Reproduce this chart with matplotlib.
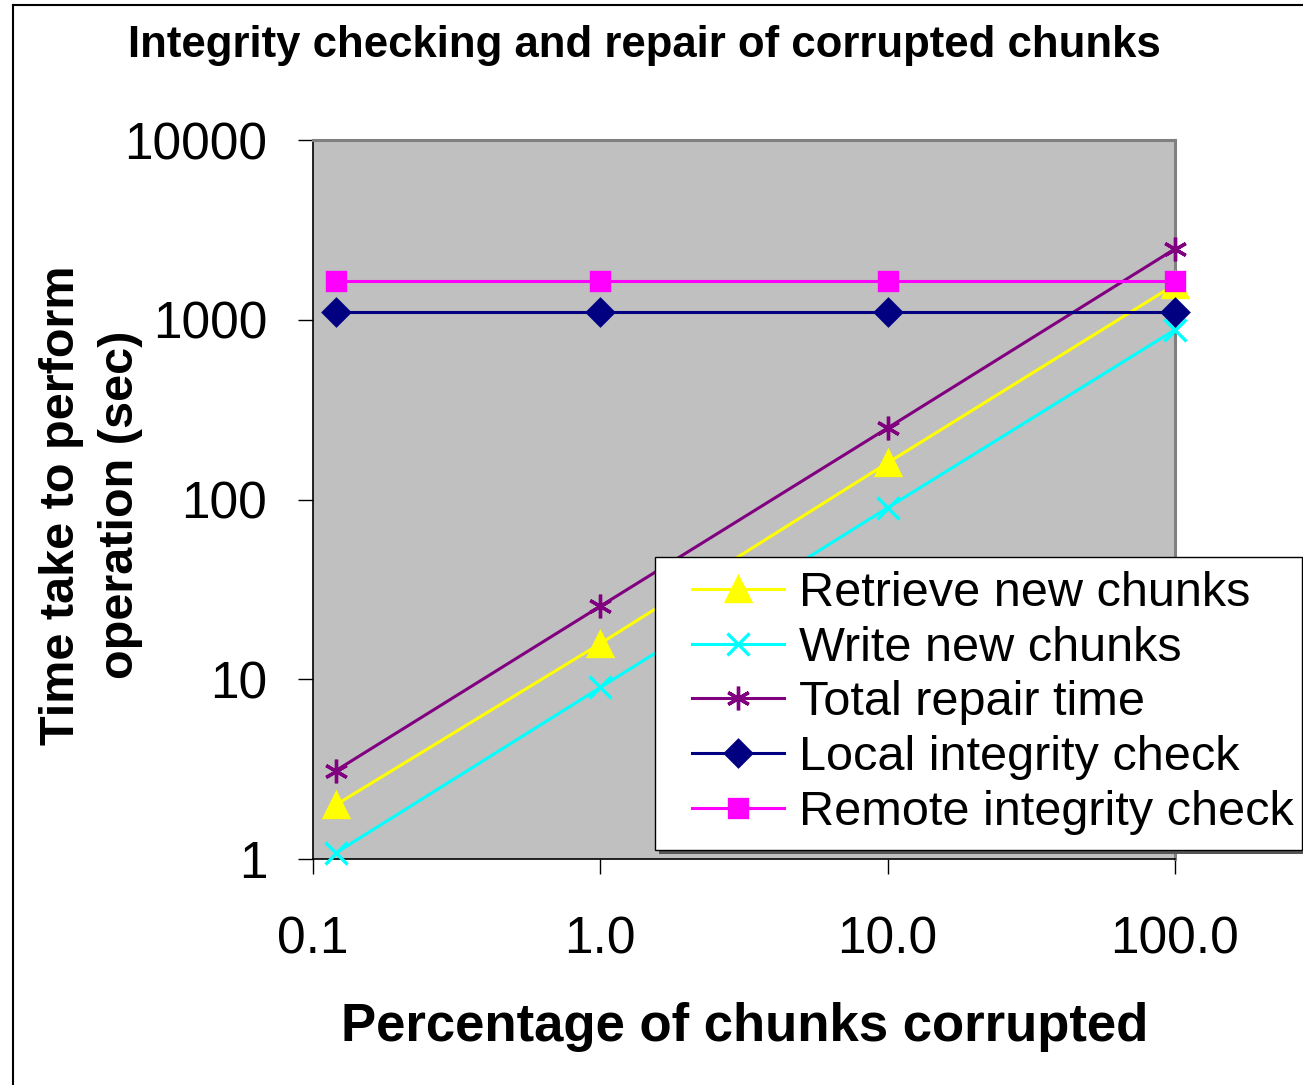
import matplotlib; matplotlib.use("Agg")
import matplotlib.pyplot as plt
from matplotlib.lines import Line2D
from matplotlib.patches import Rectangle

plt.rcParams["font.family"] = ["Liberation Sans", "DejaVu Sans"]

pct = [0.12, 1.0, 10.0, 100.0]
retrieve = [2.0, 15.8, 160, 1570]
write = [1.08, 9.0, 90, 880]
total = [3.1, 25.5, 250, 2480]
local = [1100, 1100, 1100, 1100]
remote = [1650, 1650, 1650, 1650]

SERIES = [("Retrieve new chunks", retrieve, "#FFFF00", "^", 17),
          ("Write new chunks", write, "#00FFFF", "x", 16),
          ("Total repair time", total, "#800080", (6, 2, 0), 17),
          ("Local integrity check", local, "#000080", "D", 13),
          ("Remote integrity check", remote, "#FF00FF", "s", 13)]

W, H = 1303, 1085
fig = plt.figure(figsize=(W / 100, H / 100), dpi=100)
ax = fig.add_axes([313 / W, 1 - 859 / H, (1175 - 313) / W, (859 - 140) / H])
ax.set_facecolor("#C0C0C0")

for name, vals, color, mk, ms in SERIES:
    ax.plot(pct, vals, color=color, lw=2.2, marker=mk, ms=ms, mew=2.4,
            mec=color, mfc=color, label=name, clip_on=False, zorder=3)

ax.set_xscale("log"); ax.set_yscale("log")
ax.set_xlim(0.1, 100); ax.set_ylim(1, 10000)
ax.set_xticks([0.1, 1, 10, 100]); ax.set_xticklabels(["0.1", "1.0", "10.0", "100.0"])
ax.set_yticks([1, 10, 100, 1000, 10000]); ax.set_yticklabels(["1", "10", "100", "1000", "10000"])
ax.minorticks_off()
ax.tick_params(axis="x", direction="out", length=11, width=1, labelsize=37, pad=30)
ax.tick_params(axis="y", direction="out", length=11, width=1, labelsize=37, pad=22)
for s in ["left", "bottom"]:
    ax.spines[s].set_color("black"); ax.spines[s].set_linewidth(1.2)
for s in ["top", "right"]:
    ax.spines[s].set_color("#808080"); ax.spines[s].set_linewidth(2.2)

fig.text(644 / W, 1 - 45 / H, "Integrity checking and repair of corrupted chunks",
         ha="center", va="center", fontsize=31.5, fontweight="bold")
fig.text(745 / W, 1 - 1027 / H, "Percentage of chunks corrupted",
         ha="center", va="center", fontsize=38, fontweight="bold")
fig.text(91 / W, 1 - 505 / H, "Time take to perform\noperation (sec)", rotation=90,
         ha="center", va="center", fontsize=35, fontweight="bold", linespacing=1.4)

# legend frame drawn by hand (with Excel-style shadow), entries placed inside it
lx0, ly0, lx1, ly1 = 655, 557, 1302, 850
fig.add_artist(Rectangle((lx0 / W + 4 / W, 1 - (ly1 + 4) / H), (lx1 - lx0) / W, (ly1 - ly0) / H,
                         transform=fig.transFigure, facecolor="#555555", edgecolor="none", zorder=9))
fig.add_artist(Rectangle((lx0 / W, 1 - ly1 / H), (lx1 - lx0) / W, (ly1 - ly0) / H,
                         transform=fig.transFigure, facecolor="white", edgecolor="black", lw=1, zorder=9))
handles, labels = ax.get_legend_handles_labels()
leg = fig.legend(handles, labels, loc="upper left", bbox_to_anchor=(692 / W, 1 - 571 / H),
                 bbox_transform=fig.transFigure, fontsize=35, frameon=False,
                 borderpad=0, labelspacing=0.2, handlelength=1.9, handletextpad=0.3,
                 borderaxespad=0)
leg.set_zorder(10)

# figure border (left and top edges visible)
fig.add_artist(Line2D([13 / W, 13 / W], [0, 1 - 5 / H], transform=fig.transFigure, color="black", lw=1.5))
fig.add_artist(Line2D([13 / W, 1], [1 - 5 / H, 1 - 5 / H], transform=fig.transFigure, color="black", lw=1.5))

fig.savefig("out.png", dpi=100)
